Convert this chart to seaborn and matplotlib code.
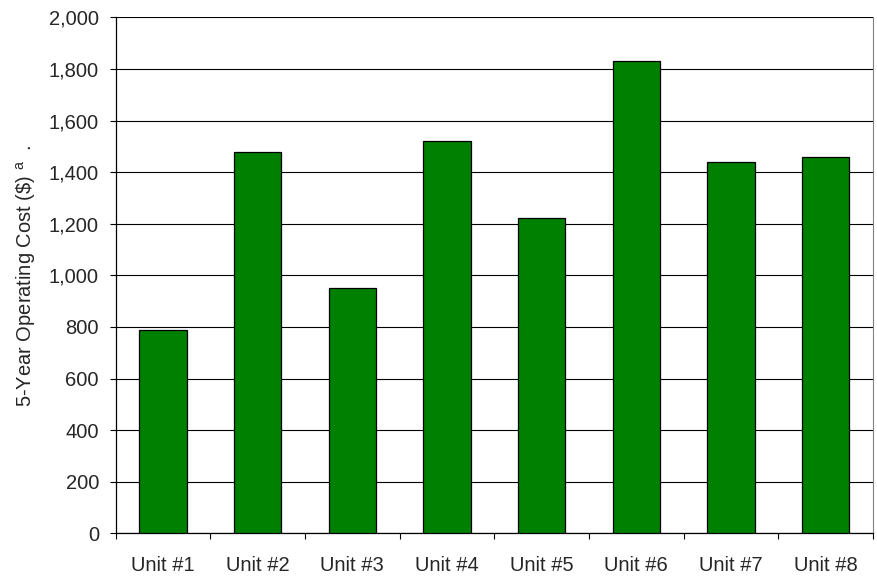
import numpy as np
import pandas as pd
import matplotlib
matplotlib.use("Agg")
import matplotlib.pyplot as plt
import seaborn as sns

units = ["Unit #1", "Unit #2", "Unit #3", "Unit #4",
         "Unit #5", "Unit #6", "Unit #7", "Unit #8"]
cost = [787, 1477, 952, 1522, 1223, 1831, 1439, 1458]

df = pd.DataFrame({"unit": units, "cost": cost})

sns.set_style("white")
plt.rcParams["font.family"] = ["Liberation Sans", "DejaVu Sans"]

fig = plt.figure(figsize=(8.78, 5.78), dpi=100)
ax = fig.add_axes([0.1316, 0.0773, 0.8627, 0.8927])

sns.barplot(data=df, x="unit", y="cost", color="#008000", saturation=1,
            width=0.5, edgecolor="black", linewidth=0.9, ax=ax, zorder=3)

ax.set_ylim(0, 2000)
ax.set_xlim(-0.5, 7.5)
ax.set_yticks(np.arange(0, 2001, 200))
ax.set_yticklabels([f"{v:,}" for v in range(0, 2001, 200)], fontsize=14.5)
ax.yaxis.grid(True, color="black", linewidth=0.8, zorder=0)
ax.set_axisbelow(True)

# category boundary ticks on x
ax.set_xticks(np.arange(-0.5, 8, 1), minor=True)
ax.tick_params(axis="x", which="major", length=0, pad=16, labelsize=14.5)
ax.tick_params(axis="x", which="minor", length=4.5, width=0.8, color="black", direction="out")
ax.tick_params(axis="y", length=4, width=0.8, color="black", direction="out", pad=8)
ax.xaxis.set_ticks_position("bottom")
ax.yaxis.set_ticks_position("left")

for s in ["left", "bottom"]:
    ax.spines[s].set_color("black")
    ax.spines[s].set_linewidth(0.9)
ax.spines["top"].set_visible(False)
ax.spines["right"].set_color("#808080")
ax.spines["right"].set_linewidth(0.8)

ax.set_xlabel("")
ax.set_ylabel(r"5-Year Operating Cost (\$) $^{\mathregular{a}}$  .", fontsize=14.5, labelpad=8)

fig.savefig("out.png", dpi=100)
